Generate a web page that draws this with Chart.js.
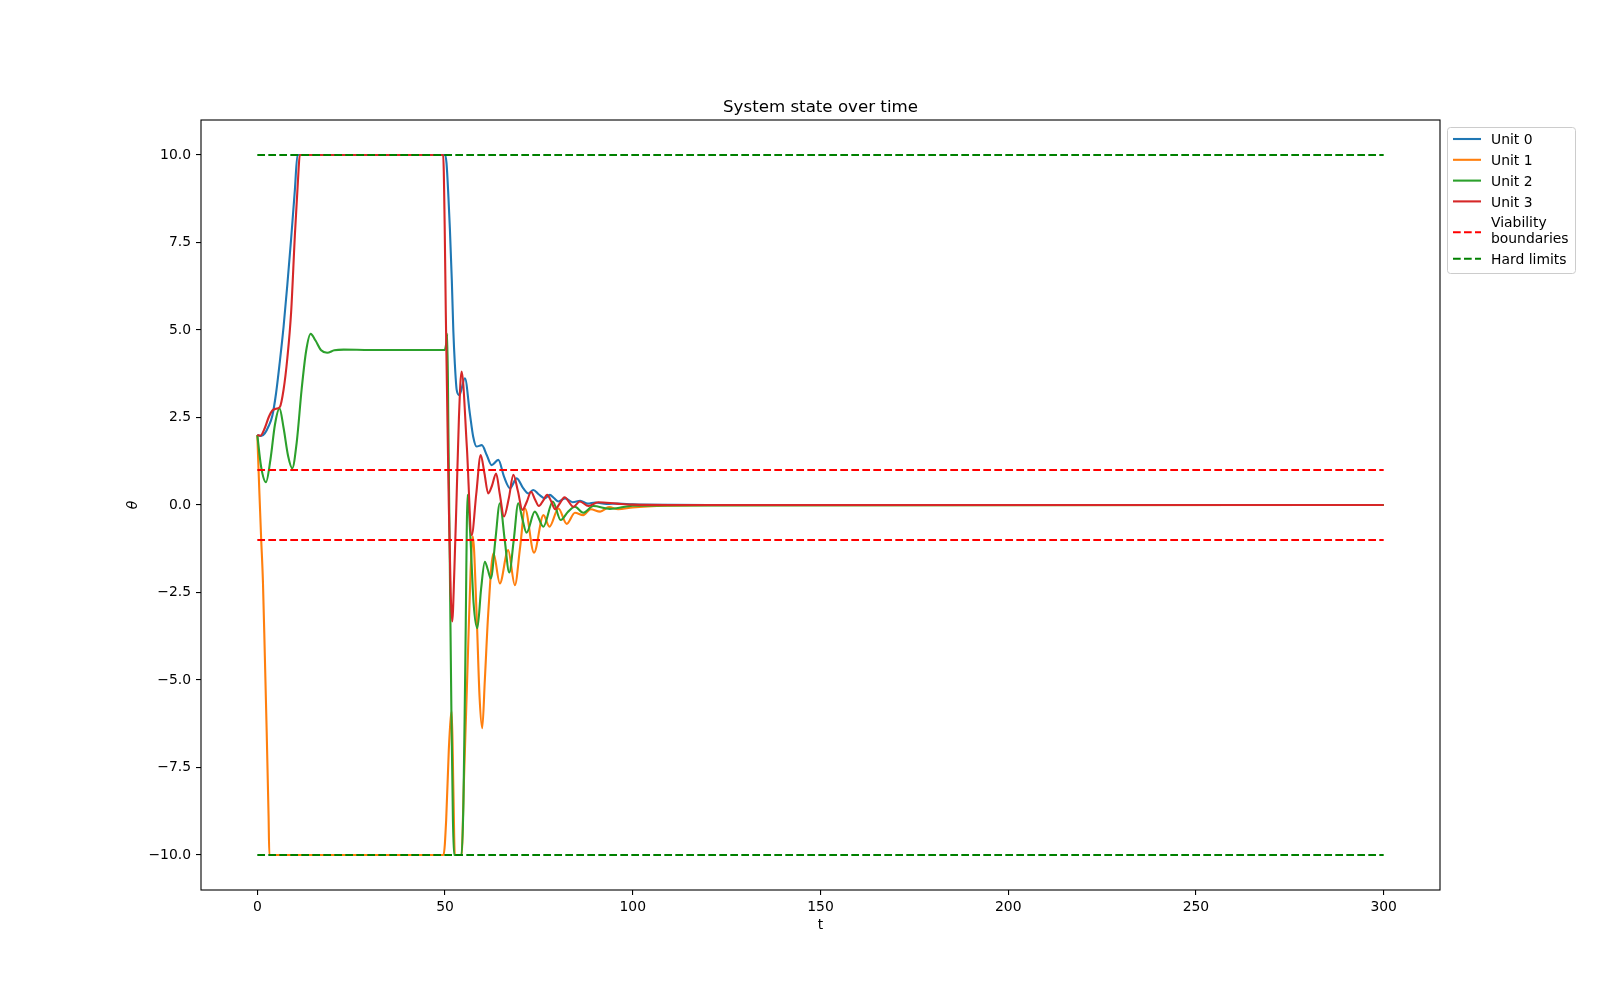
<!DOCTYPE html>
<html><head><meta charset="utf-8">
<script src="https://cdn.jsdelivr.net/npm/chart.js@4.4.0/dist/chart.umd.min.js"></script>
<style>html,body{margin:0;padding:0;background:#fff;}canvas{display:block;}</style>
</head><body>
<canvas id="c" width="1600" height="1000"></canvas>
<script>
// ---- data ----
const unit0T = [0, 1, 2, 3, 4, 5, 6, 7, 8, 9, 10, 10.7, 50.0, 50.4, 50.9, 51.3, 51.8, 52.2, 52.6, 53.1, 53.8, 55.3, 56.6, 57.5, 58.4, 59.8, 61.1, 62.4, 64.2, 65.7, 67.3, 69.1, 70.8, 72.2, 73.5, 75.0, 76.6, 77.9, 79.0, 80.2, 82.0, 84, 86, 88, 90, 93, 96, 100, 110, 120, 300];
const unit0Y = [2.0, 1.97, 2.05, 2.25, 2.55, 3.2, 4.1, 5.1, 6.3, 7.6, 9.0, 10, 10, 9.76, 8.8, 7.86, 6.43, 5.0, 4.05, 3.29, 3.14, 3.62, 2.62, 1.95, 1.67, 1.71, 1.43, 1.14, 1.29, 0.81, 0.48, 0.76, 0.48, 0.33, 0.43, 0.3, 0.19, 0.29, 0.2, 0.1, 0.19, 0.08, 0.12, 0.04, 0.07, 0.03, 0.04, 0.02, 0.005, 0, 0];

const unit1T = [0, 0.5, 1, 1.5, 2, 2.5, 3, 3.2, 49.6, 50.3, 51.0, 51.5, 51.8, 52.2, 52.6, 54.4, 55.0, 56.0, 56.8, 57.4, 58.4, 59.2, 59.9, 60.6, 61.5, 62.9, 64.6, 66.8, 68.6, 70.0, 71.3, 73.7, 76.2, 77.8, 80.2, 82.4, 84.6, 86.8, 88.8, 91.3, 93.7, 96.1, 100, 110, 120, 300];
const unit1Y = [2, 0.5, -0.9, -2.2, -4.3, -6.5, -8.9, -10, -10, -9.0, -7.0, -6.1, -5.9, -8.0, -10, -10, -8.0, -4.6, -1.9, -0.9, -3.1, -5.5, -6.38, -5.0, -3.1, -1.38, -2.24, -1.29, -2.29, -1.2, -0.1, -1.36, -0.29, -0.62, -0.1, -0.54, -0.22, -0.29, -0.12, -0.19, -0.06, -0.12, -0.07, -0.02, -0.005, 0];

const unit2T = [0, 1, 2.3, 3.5, 4.7, 5.9, 7.0, 8.2, 9.3, 10.5, 11.8, 13.0, 14.2, 15.5, 17.0, 18.6, 20.5, 23, 30, 49.9, 50.3, 50.6, 50.9, 51.3, 51.7, 52.1, 52.4, 54.4, 54.9, 55.4, 56.0, 56.7, 57.6, 58.6, 59.6, 60.6, 61.4, 62.2, 63.4, 64.6, 65.9, 67.1, 68.3, 69.5, 70.6, 71.7, 73.9, 76.2, 78.7, 80.8, 82.7, 84.6, 86.8, 89.5, 93.9, 100, 110, 300];
const unit2Y = [2.0, 1.1, 0.65, 1.3, 2.3, 2.76, 2.2, 1.4, 1.05, 1.8, 3.3, 4.4, 4.89, 4.7, 4.42, 4.35, 4.42, 4.44, 4.43, 4.43, 4.6, 4.89, 2.0, -2.0, -6.0, -9.0, -10, -10, -8.5, -4.5, 0.29, -0.8, -2.8, -3.52, -2.4, -1.62, -1.85, -2.1, -1.0, 0.05, -1.0, -1.93, -1.0, 0.05, -0.4, -0.79, -0.19, -0.62, 0.1, -0.43, -0.2, -0.05, -0.22, -0.03, -0.11, -0.02, -0.01, 0];

const unit3T = [0, 0.8, 2, 3, 4, 5, 6, 7, 8, 9, 10, 11, 11.3, 49.5, 49.9, 50.2, 50.5, 51.0, 51.5, 51.9, 52.5, 53.1, 53.7, 54.4, 55.8, 57.1, 58.3, 59.5, 60.5, 61.5, 62.5, 63.6, 64.6, 65.7, 67.0, 68.2, 69.4, 70.6, 71.8, 72.9, 74.0, 75.0, 76.1, 77.2, 78.3, 79.3, 80.6, 81.8, 84.2, 85.9, 88.2, 90.8, 95.7, 100, 110, 300];
const unit3Y = [2.0, 1.98, 2.2, 2.5, 2.7, 2.75, 2.8, 3.3, 4.2, 5.5, 7.7, 9.6, 10, 10, 8.0, 5.5, 3.4, 0.0, -2.5, -3.33, -1.8, 0.3, 2.5, 3.81, 1.67, -0.86, 0.3, 1.43, 0.9, 0.33, 0.55, 0.9, 0.3, -0.33, 0.2, 0.86, 0.4, -0.14, 0.1, 0.38, 0.15, -0.03, 0.12, 0.29, 0.1, -0.12, 0.05, 0.22, -0.05, 0.1, -0.03, 0.08, 0.04, 0.01, 0, 0];

const seriesNames = ['Unit 0', 'Unit 1', 'Unit 2', 'Unit 3'];
const tRange = [0, 300];
const viabilityLevels = [1, -1];
const hardLimitLevels = [10, -10];
const xTicks = [0, 50, 100, 150, 200, 250, 300];
const yTicks = [-10, -7.5, -5, -2.5, 0, 2.5, 5, 7.5, 10];

// ---- styles ----
const seriesColors = ['#1f77b4', '#ff7f0e', '#2ca02c', '#d62728'];
const FONT = "'DejaVu Sans', sans-serif";
const DASH = [7.7, 3.3];

function zip(ts, ys) { return ts.map((t, i) => ({x: t, y: ys[i]})); }
function hlines(levels) {
  const pts = [];
  levels.forEach((v, i) => {
    if (i > 0) pts.push({x: tRange[1], y: null});
    pts.push({x: tRange[0], y: v}, {x: tRange[1], y: v});
  });
  return pts;
}

const unitData = [zip(unit0T, unit0Y), zip(unit1T, unit1Y), zip(unit2T, unit2Y), zip(unit3T, unit3Y)];
const datasets = unitData.map((d, i) => ({
  label: seriesNames[i], data: d, borderColor: seriesColors[i], backgroundColor: seriesColors[i],
  borderWidth: 2.1, pointRadius: 0, cubicInterpolationMode: 'monotone', fill: false, order: 10 - i
}));
datasets.push({label: 'Viability\nboundaries', data: hlines(viabilityLevels), borderColor: '#ff0000',
  borderWidth: 2.1, borderDash: DASH, pointRadius: 0, tension: 0, fill: false, spanGaps: false, order: 2});
datasets.push({label: 'Hard limits', data: hlines(hardLimitLevels), borderColor: '#008000',
  borderWidth: 2.1, borderDash: DASH, pointRadius: 0, tension: 0, fill: false, spanGaps: false, order: 1});

const frameAndLegend = {
  id: 'frameAndLegend',
  afterDraw(chart) {
    const ctx = chart.ctx, a = chart.chartArea;
    ctx.save();
    ctx.strokeStyle = '#000'; ctx.lineWidth = 1.1; ctx.setLineDash([]);
    ctx.strokeRect(a.left, a.top, a.right - a.left, a.bottom - a.top);
    // legend
    const bx = a.right + 7.5, by = a.top + 7.5, bw = 128, bh = 146, r = 3;
    ctx.beginPath();
    ctx.moveTo(bx + r, by); ctx.lineTo(bx + bw - r, by); ctx.arcTo(bx + bw, by, bx + bw, by + r, r);
    ctx.lineTo(bx + bw, by + bh - r); ctx.arcTo(bx + bw, by + bh, bx + bw - r, by + bh, r);
    ctx.lineTo(bx + r, by + bh); ctx.arcTo(bx, by + bh, bx, by + bh - r, r);
    ctx.lineTo(bx, by + r); ctx.arcTo(bx, by, bx + r, by, r); ctx.closePath();
    ctx.fillStyle = 'rgba(255,255,255,0.8)'; ctx.fill();
    ctx.strokeStyle = '#cccccc'; ctx.lineWidth = 1; ctx.stroke();
    ctx.font = '13.9px ' + FONT; ctx.fillStyle = '#000'; ctx.textBaseline = 'middle'; ctx.textAlign = 'left';
    let cy = by + 13;
    const lineGap = 15.8, rowGap = 20.8;
    chart.data.datasets.forEach(ds => {
      const lines = ds.label.split('\n');
      const center = lines.length > 1 ? cy + (lines.length - 1) * lineGap / 2 + 0.7 : cy - 1.5;
      ctx.beginPath(); ctx.strokeStyle = ds.borderColor; ctx.lineWidth = 2.1;
      ctx.setLineDash(ds.borderDash || []);
      ctx.moveTo(bx + 5.5, center); ctx.lineTo(bx + 33.5, center); ctx.stroke();
      ctx.setLineDash([]);
      lines.forEach((ln, k) => ctx.fillText(ln, bx + 43.5, cy + k * lineGap));
      cy += (lines.length - 1) * lineGap + rowGap;
    });
    ctx.restore();
  }
};

const minusFmt = v => (v < 0 ? '\u2212' : '') + Math.abs(v);
new Chart(document.getElementById('c'), {
  type: 'line',
  data: {datasets},
  plugins: [frameAndLegend],
  options: {
    responsive: false, animation: false, devicePixelRatio: 1,
    layout: {padding: {left: 0, right: 160, top: 0, bottom: 0}},
    plugins: {
      legend: {display: false}, tooltip: {enabled: false},
      title: {display: true, text: 'System state over time', color: '#000', fullSize: false,
        font: {family: FONT, size: 16.67, weight: 'normal', lineHeight: 1.2}, padding: {top: 98, bottom: 2}}
    },
    scales: {
      x: {
        type: 'linear', min: -15, max: 315,
        afterBuildTicks: s => { s.ticks = xTicks.map(v => ({value: v})); },
        afterFit: s => { s.height = 110; },
        grid: {display: true, drawOnChartArea: false, drawTicks: true, tickLength: 5, color: '#000', lineWidth: 1.1},
        border: {display: false},
        ticks: {color: '#000', padding: 4, maxRotation: 0, autoSkip: false, font: {family: FONT, size: 13.9},
          callback: v => minusFmt(v)},
        title: {display: true, text: 't', color: '#000', font: {family: FONT, size: 13.9}, padding: {top: 0, bottom: 66.7}}
      },
      y: {
        type: 'linear', min: -11, max: 11,
        afterBuildTicks: s => { s.ticks = yTicks.map(v => ({value: v})); },
        afterFit: s => { s.width = 201; },
        grid: {display: true, drawOnChartArea: false, drawTicks: true, tickLength: 5, color: '#000', lineWidth: 1.1},
        border: {display: false},
        ticks: {color: '#000', padding: 5, autoSkip: false, font: {family: FONT, size: 13.9},
          callback: v => (v < 0 ? '\u2212' : '') + Math.abs(v).toFixed(1)},
        title: {display: true, text: '\u03b8', color: '#000', font: {family: FONT, size: 13.9, style: 'italic'}, padding: {top: 124.7, bottom: 0}}
      }
    }
  }
});
</script>
</body></html>
